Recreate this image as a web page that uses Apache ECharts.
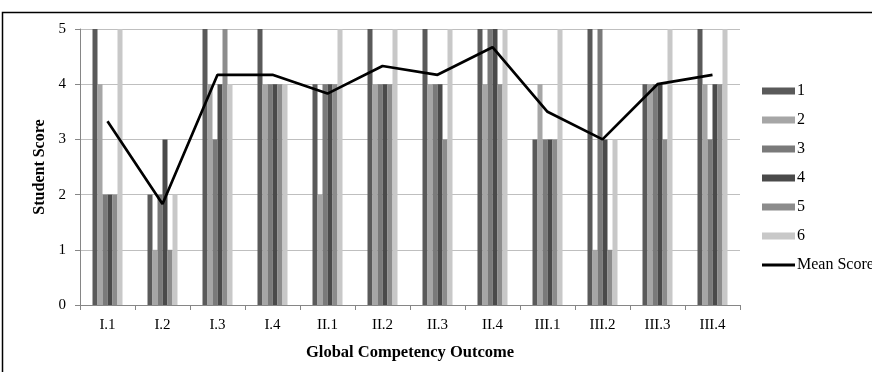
<!DOCTYPE html>
<html>
<head>
<meta charset="utf-8">
<script src="https://cdn.jsdelivr.net/npm/echarts@6/dist/echarts.min.js"></script>
<style>html,body{margin:0;padding:0;background:#fff;}#c{width:872px;height:372px;}</style>
</head>
<body>
<div id="c"></div>
<script>
const categories = ['I.1','I.2','I.3','I.4','II.1','II.2','II.3','II.4','III.1','III.2','III.3','III.4'];
const s1 = [5,2,5,5,4,5,5,5,3,5,4,5];
const s2 = [4,1,4,4,2,4,4,4,4,1,4,4];
const s3 = [2,2,3,4,4,4,4,5,3,5,4,3];
const s4 = [2,3,4,4,4,4,4,5,3,3,4,4];
const s5 = [2,1,5,4,4,4,3,4,3,1,3,4];
const s6 = [5,2,4,4,5,5,5,5,5,3,5,5];
const meanScore = [3.33,1.83,4.17,4.17,3.83,4.33,4.17,4.67,3.5,3.0,4.0,4.17];
const seriesNames = ['1','2','3','4','5','6'];
const seriesData = [s1,s2,s3,s4,s5,s6];
const colors = ['#5a5a5a','#a6a6a6','#7a7a7a','#4a4a4a','#8c8c8c','#c8c8c8'];

const font = 'Liberation Serif';
const chart = echarts.init(document.getElementById('c'));
const series = seriesData.map((d,i)=>({
  name: seriesNames[i], type:'bar', data:d, barWidth:5, barGap:'0%',
  itemStyle:{color:colors[i]}, animation:false
}));
series.push({
  name:'Mean Score', type:'line', data:meanScore, symbol:'none',
  lineStyle:{color:'#000', width:2.7}, itemStyle:{color:'#000'}, animation:false
});
chart.setOption({
  animation:false,
  backgroundColor:'#fff',
  grid:{left:80, right:132, top:29, bottom:67},
  legend:{
    orient:'vertical', left:757, top:78, itemWidth:33, itemHeight:7, itemGap:13,
    textStyle:{fontFamily:font, fontSize:16, color:'#000', padding:[0,0,0,-3]},
    data:[...seriesNames.map((n,i)=>({name:n, icon:'rect'})), {name:'Mean Score', icon:'path://M0,0 L33,0 L33,3 L0,3 Z', itemStyle:{color:'#000'}}]
  },
  xAxis:{
    type:'category', data:categories,
    name:'Global Competency Outcome', nameLocation:'middle', nameGap:39,
    nameTextStyle:{fontFamily:font, fontSize:16.5, fontWeight:'bold', color:'#000'},
    axisLine:{lineStyle:{color:'#868686'}},
    axisTick:{show:true, length:5, lineStyle:{color:'#868686'}},
    axisLabel:{fontFamily:font, fontSize:15, color:'#000', margin:13},
    splitLine:{show:false}
  },
  yAxis:{
    type:'value', min:0, max:5, interval:1,
    name:'Student Score', nameLocation:'middle', nameGap:30, nameRotate:90,
    nameTextStyle:{fontFamily:font, fontSize:16, fontWeight:'bold', color:'#000'},
    axisLine:{show:true, lineStyle:{color:'#868686'}},
    axisTick:{show:true, length:5, lineStyle:{color:'#868686'}},
    axisLabel:{fontFamily:font, fontSize:15, color:'#000', margin:14},
    splitLine:{lineStyle:{color:'#bfbfbf', width:1}}
  },
  graphic:[{type:'rect', shape:{x:2.5, y:12.5, width:900, height:400}, style:{fill:'none', stroke:'#000', lineWidth:1.5}, silent:true}],
  series: series
});
</script>
</body>
</html>
